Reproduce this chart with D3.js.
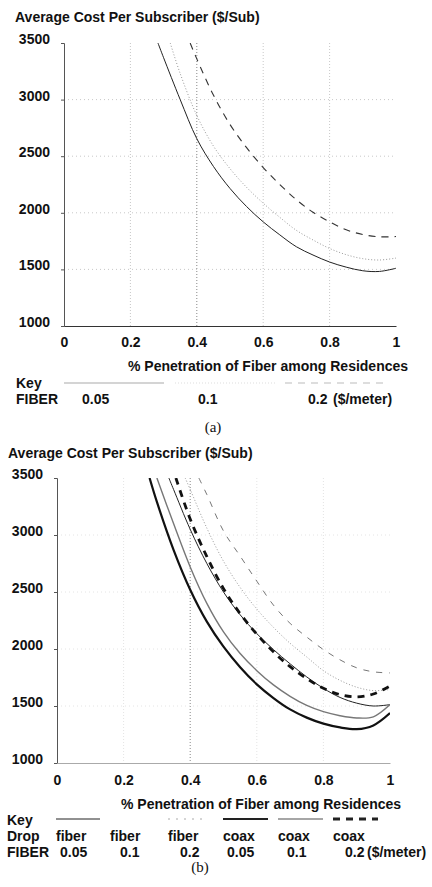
<!DOCTYPE html>
<html>
<head>
<meta charset="utf-8">
<script src="https://cdn.jsdelivr.net/npm/d3@7"></script>
<style>
  body { margin: 0; background: #fff; }
  text { font-family: "Liberation Sans", Arial, sans-serif; font-weight: bold; fill: #111; }
  .cap { font-family: "Liberation Serif", "Times New Roman", serif; font-weight: normal; }
</style>
</head>
<body>
<svg id="chart" width="432" height="887"></svg>
<script>
var xTicks = [0, 0.2, 0.4, 0.6, 0.8, 1]
var yTicks = [1000, 1500, 2000, 2500, 3000, 3500]
var xLabels = ["0", "0.2", "0.4", "0.6", "0.8", "1"]

// chart (a): fiber cost 0.05 / 0.1 / 0.2 $/meter
var aFiber05 = [[0.283, 3500], [0.30, 3370], [0.35, 3000], [0.40, 2655], [0.45, 2410], [0.50, 2215], [0.55, 2055], [0.60, 1920], [0.65, 1805], [0.70, 1700], [0.75, 1627], [0.80, 1565], [0.85, 1520], [0.90, 1488], [0.95, 1482], [1.0, 1510]]
var aFiber10 = [[0.32, 3500], [0.35, 3230], [0.40, 2860], [0.45, 2590], [0.50, 2390], [0.55, 2225], [0.60, 2085], [0.65, 1960], [0.70, 1845], [0.75, 1760], [0.80, 1685], [0.85, 1630], [0.90, 1595], [0.95, 1583], [1.0, 1600]]
var aFiber20 = [[0.38, 3500], [0.40, 3360], [0.45, 3040], [0.50, 2780], [0.55, 2575], [0.60, 2400], [0.65, 2250], [0.70, 2115], [0.75, 2005], [0.80, 1920], [0.85, 1850], [0.90, 1808], [0.95, 1788], [1.0, 1790]]

// chart (b): drop fiber / coax
var bFiber05 = [[0.336, 3500], [0.35, 3400], [0.40, 3050], [0.45, 2750], [0.50, 2500], [0.55, 2300], [0.60, 2135], [0.65, 1995], [0.70, 1870], [0.75, 1755], [0.80, 1655], [0.85, 1575], [0.90, 1525], [0.95, 1500], [1.0, 1512]]
var bFiber10 = [[0.385, 3500], [0.40, 3400], [0.45, 3060], [0.50, 2770], [0.55, 2540], [0.60, 2350], [0.65, 2190], [0.70, 2050], [0.75, 1930], [0.80, 1810], [0.85, 1725], [0.90, 1665], [0.95, 1635], [1.0, 1645]]
var bFiber20 = [[0.426, 3500], [0.45, 3355], [0.50, 3035], [0.55, 2815], [0.60, 2595], [0.65, 2385], [0.70, 2225], [0.75, 2105], [0.80, 1995], [0.85, 1905], [0.90, 1835], [0.95, 1800], [1.0, 1790]]
var bCoax05 = [[0.278, 3500], [0.30, 3290], [0.35, 2870], [0.40, 2520], [0.45, 2240], [0.50, 2020], [0.55, 1840], [0.60, 1690], [0.65, 1570], [0.70, 1470], [0.75, 1398], [0.80, 1345], [0.85, 1312], [0.90, 1297], [0.95, 1330], [1.0, 1438]]
var bCoax10 = [[0.300, 3500], [0.35, 3100], [0.40, 2720], [0.45, 2400], [0.50, 2150], [0.55, 1960], [0.60, 1810], [0.65, 1685], [0.70, 1585], [0.75, 1505], [0.80, 1450], [0.85, 1415], [0.90, 1395], [0.95, 1405], [1.0, 1512]]
var bCoax20 = [[0.357, 3500], [0.40, 3140], [0.45, 2810], [0.50, 2530], [0.55, 2310], [0.60, 2130], [0.65, 1975], [0.70, 1845], [0.75, 1740], [0.80, 1655], [0.85, 1600], [0.90, 1580], [0.95, 1605], [1.0, 1675]]

var keyA = ["0.05", "0.1", "0.2"]
var keyDrop = ["fiber", "fiber", "fiber", "coax", "coax", "coax"]
var keyFiber = ["0.05", "0.1", "0.2", "0.05", "0.1", "0.2"]

var svg = d3.select("#chart")

var styles = {
    fthin: { stroke: "#222", width: 1, dash: null },
    fdot: { stroke: "#999", width: 1, dash: "1,2" },
    fdash: { stroke: "#333", width: 1.1, dash: "7,6" },
    fdashLight: { stroke: "#666", width: 0.9, dash: "6,7" },
    cthick: { stroke: "#111", width: 2.2, dash: null },
    cgray: { stroke: "#777", width: 1.4, dash: null },
    cdash: { stroke: "#111", width: 2.8, dash: "7,6" }
}

function drawChart(cfg) {
    var g = svg.append("g")
    var x = d3.scaleLinear().domain([0, 1]).range([cfg.left, cfg.right])
    var y = d3.scaleLinear().domain([1000, 3500]).range([cfg.bottom, cfg.top])

    g.append("defs").append("clipPath").attr("id", cfg.id)
        .append("rect")
        .attr("x", cfg.left).attr("y", cfg.top)
        .attr("width", cfg.right - cfg.left).attr("height", cfg.bottom - cfg.top)

    // grid
    g.selectAll(".vg").data(xTicks.slice(1, 5)).enter().append("line")
        .attr("x1", d => x(d)).attr("x2", d => x(d))
        .attr("y1", cfg.top).attr("y2", cfg.bottom)
        .attr("stroke", d => d == 0.4 ? "#888" : cfg.gridColor)
        .attr("stroke-width", 1)
        .attr("stroke-dasharray", "1,2")
    g.selectAll(".hg").data(yTicks.slice(1, 5)).enter().append("line")
        .attr("x1", cfg.left).attr("x2", cfg.right)
        .attr("y1", d => y(d)).attr("y2", d => y(d))
        .attr("stroke", cfg.gridColor)
        .attr("stroke-width", 1)
        .attr("stroke-dasharray", "1,3")

    // axes
    var yAxis = d3.axisLeft(y).tickValues(yTicks).tickSize(3).tickFormat(d3.format("d"))
    var ya = g.append("g").attr("transform", "translate(" + cfg.left + ",0)").call(yAxis)
    ya.select(".domain").attr("stroke", "#555")
    ya.selectAll(".tick line").attr("stroke", "#555")
    ya.selectAll(".tick text")
        .attr("x", -14).attr("dy", "0.32em").attr("y", -4)
        .style("font-size", "14px").style("font-family", "Liberation Sans").style("font-weight", "bold")
        .attr("fill", "#111")

    var xAxis = d3.axisBottom(x).tickValues(xTicks).tickSize(0).tickFormat((d, i) => xLabels[i])
    var xa = g.append("g").attr("transform", "translate(0," + cfg.bottom + ")").call(xAxis)
    xa.select(".domain").attr("stroke", cfg.baseColor)
    xa.selectAll(".tick text")
        .attr("y", 0).attr("dy", 0).attr("transform", "translate(0," + (cfg.xLabelY - cfg.bottom) + ")")
        .style("font-size", "14px").style("font-family", "Liberation Sans").style("font-weight", "bold")
        .attr("fill", "#111")

    // curves
    var line = d3.line()
        .x(d => x(d[0])).y(d => y(d[1]))
        .curve(d3.curveCatmullRom.alpha(0.5))
    var lg = g.append("g").attr("clip-path", "url(#" + cfg.id + ")")
    cfg.series.forEach(function (s) {
        var st = styles[s.style]
        lg.append("path")
            .datum(s.data)
            .attr("d", line)
            .attr("fill", "none")
            .attr("stroke", st.stroke)
            .attr("stroke-width", st.width)
            .attr("stroke-dasharray", st.dash)
    })

    // titles
    g.append("text").attr("x", cfg.titleX).attr("y", cfg.titleY)
        .style("font-size", "14px").text("Average Cost Per Subscriber ($/Sub)")
    g.append("text").attr("x", cfg.xTitleX).attr("y", cfg.xTitleY)
        .style("font-size", "14px").text("% Penetration of Fiber among Residences")
    return g
}

drawChart({
    id: "clipA", left: 64, right: 396, top: 43, bottom: 326,
    gridColor: "#c8c8c8", baseColor: "#333",
    xLabelY: 347, titleX: 15, titleY: 22, xTitleX: 128, xTitleY: 371,
    series: [
        { data: aFiber05, style: "fthin" },
        { data: aFiber10, style: "fdot" },
        { data: aFiber20, style: "fdash" }
    ]
})

drawChart({
    id: "clipB", left: 57, right: 390, top: 478, bottom: 763,
    gridColor: "#e4e4e4", baseColor: "#aaa",
    xLabelY: 785, titleX: 8, titleY: 458, xTitleX: 121, xTitleY: 809,
    series: [
        { data: bFiber20, style: "fdashLight" },
        { data: bFiber10, style: "fdot" },
        { data: bFiber05, style: "fthin" },
        { data: bCoax20, style: "cdash" },
        { data: bCoax10, style: "cgray" },
        { data: bCoax05, style: "cthick" }
    ]
})

// key (a)
var keyAStyles = ["cgray", "fdot", "fdash"]
var keyAx = [[64, 164], [175, 275], [285, 385]]
svg.selectAll(".keyA").data(keyAx).enter().append("line")
    .attr("x1", d => d[0]).attr("x2", d => d[1]).attr("y1", 383).attr("y2", 383)
    .attr("stroke", (d, i) => i == 0 ? "#aaa" : i == 1 ? "#ddd" : "#bbb")
    .attr("stroke-width", 1.2)
    .attr("stroke-dasharray", (d, i) => styles[keyAStyles[i]].dash)
svg.append("text").attr("x", 16).attr("y", 388).style("font-size", "14px").text("Key")
svg.append("text").attr("x", 16).attr("y", 404).style("font-size", "14px").text("FIBER")
var keyAPos = [82, 198, 308]
svg.selectAll(".keyAt").data(keyA).enter().append("text")
    .attr("x", (d, i) => keyAPos[i]).attr("y", 404)
    .style("font-size", "14px").text(d => d)
svg.append("text").attr("x", 333).attr("y", 404).style("font-size", "14px").text("($/meter)")
svg.append("text").attr("class", "cap").attr("x", 213).attr("y", 432)
    .attr("text-anchor", "middle").style("font-size", "15px").text("(a)")

// key (b)
var keyBStyles = ["fthin", "fdot", "fdot", "cthick", "cgray", "cdash"]
var keyBx = [[56, 100], [112, 150], [168, 205], [223, 268], [278, 323], [333, 378]]
svg.selectAll(".keyB").data(keyBx).enter().append("line")
    .attr("x1", d => d[0]).attr("x2", d => d[1]).attr("y1", 819).attr("y2", 819)
    .attr("stroke", (d, i) => i == 1 ? "#fff" : i == 2 ? "#aaa" : i == 4 ? "#888" : "#222")
    .attr("stroke-width", (d, i) => styles[keyBStyles[i]].width)
    .attr("stroke-dasharray", (d, i) => i == 2 ? "2,6" : styles[keyBStyles[i]].dash)
svg.append("text").attr("x", 7).attr("y", 825).style("font-size", "14px").text("Key")
svg.append("text").attr("x", 7).attr("y", 841).style("font-size", "14px").text("Drop")
svg.append("text").attr("x", 7).attr("y", 857).style("font-size", "14px").text("FIBER")
var dropPos = [56, 110, 168, 223, 278, 333]
var fibPos = [60, 120, 180, 227, 287, 345]
svg.selectAll(".keyBd").data(keyDrop).enter().append("text")
    .attr("x", (d, i) => dropPos[i]).attr("y", 841)
    .style("font-size", "14px").text(d => d)
svg.selectAll(".keyBf").data(keyFiber).enter().append("text")
    .attr("x", (d, i) => fibPos[i]).attr("y", 857)
    .style("font-size", "14px").text(d => d)
svg.append("text").attr("x", 367).attr("y", 857).style("font-size", "14px").text("($/meter)")
svg.append("text").attr("class", "cap").attr("x", 200).attr("y", 872)
    .attr("text-anchor", "middle").style("font-size", "15px").text("(b)")
</script>
</body>
</html>
